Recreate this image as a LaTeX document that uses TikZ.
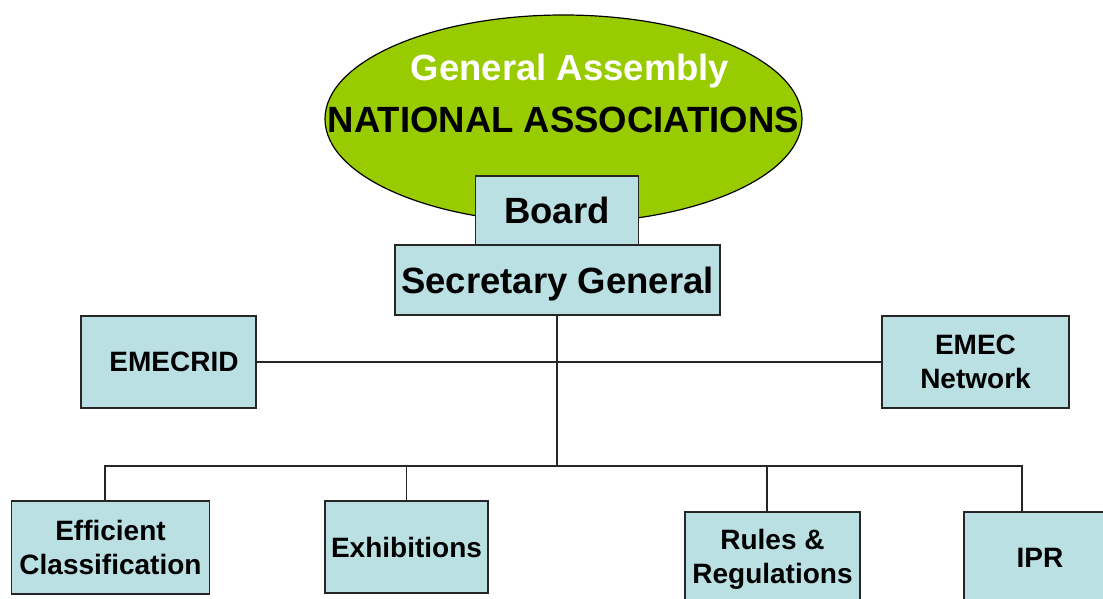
\documentclass[tikz,border=0pt]{standalone}
\usepackage{fontspec}
\setmainfont{Liberation Sans}
\usetikzlibrary{shapes.geometric}
\definecolor{ggreen}{RGB}{153,204,0}
\definecolor{bfill}{RGB}{187,224,227}
\begin{document}
\begin{tikzpicture}[x=1pt,y=-1pt,
  box/.style={draw=black!85, line width=1.4pt, fill=bfill, rectangle, inner sep=0pt, align=center, font=\fontsize{28}{34}\selectfont\bfseries},
  bigbox/.style={box, font=\fontsize{36.5}{40}\selectfont\bfseries},
  conn/.style={draw=black!85, line width=1.3pt}]
\useasboundingbox (0,0) rectangle (1103,599);
\clip (0,0) rectangle (1103,599);
% General Assembly ellipse
\node[ellipse, draw=black, line width=1.2pt, fill=ggreen, minimum width=477pt, minimum height=208pt, inner sep=0pt] (ga) at (563.5,119) {};
\node[text=white, font=\fontsize{36.5}{40}\selectfont\bfseries, anchor=base] (gat) at (570,81) {General Assembly};
\node[text=black, font=\fontsize{36.5}{40}\selectfont\bfseries, anchor=base] (nat) at (563.5,132) {NATIONAL ASSOCIATIONS};
% Board and SG
\node[bigbox, minimum width=163pt, minimum height=69pt] (board) at (557,210.5) {Board};
\node[bigbox, minimum width=325pt, minimum height=70pt, text depth=0pt] (sg) at (557.5,280) {Secretary General};
% side boxes
\node[box, minimum width=175pt, minimum height=92pt] (emecrid) at (168.5,362) {\hspace*{11pt}EMECRID};
\node[box, minimum width=187pt, minimum height=92pt] (emecnet) at (975.5,362) {EMEC\\Network};
% bottom boxes
\node[box, minimum width=198pt, minimum height=93pt] (eff) at (110.5,547.5) {Efficient\\Classification};
\node[box, minimum width=163pt, minimum height=92pt] (exh) at (406.5,547) {Exhibitions};
\node[box, minimum width=175pt, minimum height=94pt] (rules) at (772.5,559) {Rules \&\\Regulations};
\node[box, minimum width=152pt, minimum height=92pt] (ipr) at (1040,558) {IPR};
% connectors
\coordinate (j1) at (557,362);
\coordinate (j2) at (557,466);
\coordinate (effc) at ([xshift=-5.5pt]eff.north);
\coordinate (rulc) at ([xshift=-5.5pt]rules.north);
\coordinate (iprc) at ([xshift=-18pt]ipr.north);
\draw[conn] (sg.south -| j1) -- (j2);
\draw[conn] (emecrid.east) -- (emecnet.west);
\draw[conn] (effc) |- (j2) -| (iprc);
\draw[conn] (exh.north) -- (exh.north |- j2);
\draw[conn] (rulc) -- (rulc |- j2);
\end{tikzpicture}
\end{document}
